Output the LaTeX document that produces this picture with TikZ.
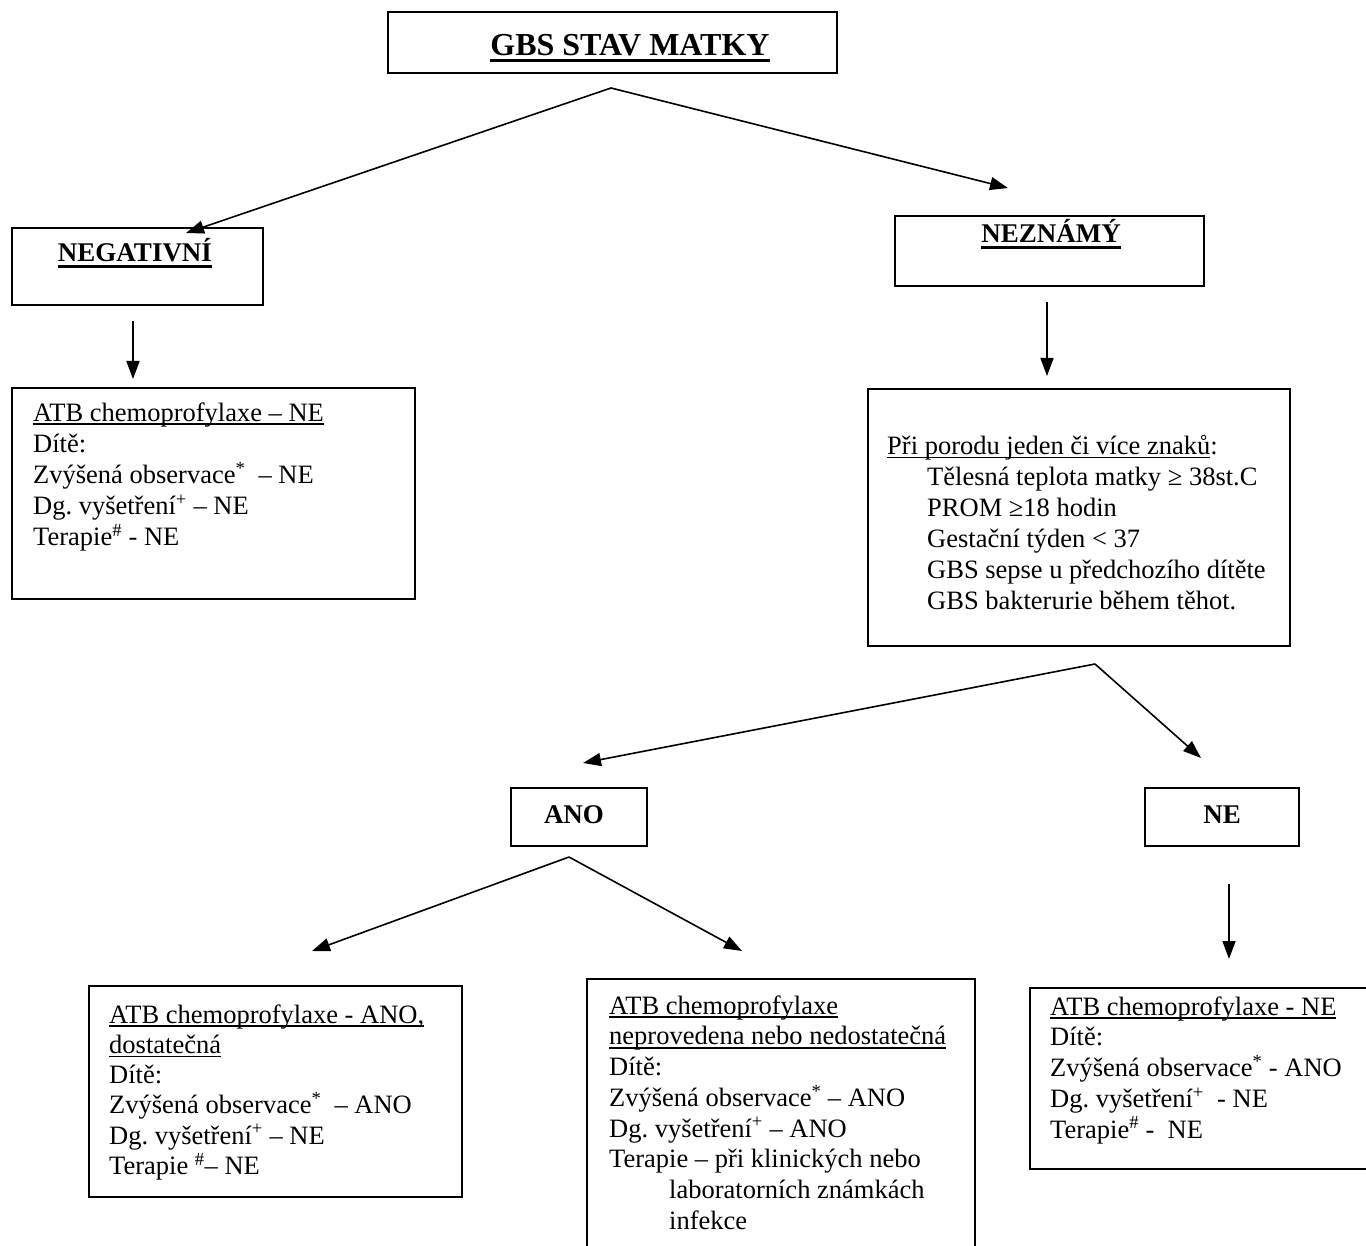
\documentclass[tikz,border=0pt]{standalone}
\usepackage{fontspec}
\setmainfont{Liberation Serif}
\usetikzlibrary{arrows.meta}
\frenchspacing
\newcommand\myul[1]{\leavevmode\setbox0\hbox{#1}\rlap{\rule[-3.6pt]{\wd0}{1.4pt}}\box0}
\newcommand\myulb[1]{\leavevmode\setbox0\hbox{#1}\rlap{\rule[-6pt]{\wd0}{3pt}}\box0}
\newcommand\sst{\rule{0pt}{19pt}}
\begin{document}
\begin{tikzpicture}[x=1pt,y=-1pt,
  box/.style={draw, line width=1.8pt, inner sep=0pt, anchor=north west},
  txt/.style={inner sep=0pt, anchor=north west, align=left, font=\fontsize{26.5}{31}\selectfont\frenchspacing},
  head/.style={inner sep=0pt, anchor=base, font=\fontsize{27}{31}\selectfont\bfseries},
  arr/.style={line width=1.6pt, -{Triangle[length=18pt,width=13pt]}},
  ln/.style={line width=1.6pt}]
\useasboundingbox (0,0) rectangle (1366,1246);
\clip (0,0) rectangle (1366,1246);
% boxes
\node[box, minimum width=449pt, minimum height=61pt] (bTop) at (387,11) {};
\node[box, minimum width=251pt, minimum height=77pt] (bNeg) at (11,227) {};
\node[box, minimum width=309pt, minimum height=70pt] (bNez) at (894,215) {};
\node[box, minimum width=403pt, minimum height=211pt] (bL1) at (11,387) {};
\node[box, minimum width=422pt, minimum height=257pt] (bR2) at (867,388) {};
\node[box, minimum width=136pt, minimum height=58pt] (bAno) at (510,787) {};
\node[box, minimum width=154pt, minimum height=58pt] (bNe) at (1144,787) {};
\node[box, minimum width=373pt, minimum height=211pt] (bB1) at (88,985) {};
\node[box, minimum width=388pt, minimum height=300pt] (bB2) at (586,978) {};
\node[box, minimum width=360pt, minimum height=181pt] (bB3) at (1029,987) {};
% headings
\node[head, font=\fontsize{32}{36}\selectfont\bfseries] (hTop) at (630,56) {\myulb{GBS STAV MATKY}};
\node[head] (hNeg) at (135,262) {\myulb{NEGATIVNÍ}};
\node[head] (hNez) at (1051,243) {\myulb{NEZNÁMÝ}};
\node[head] (hAno) at (574,823) {ANO};
\node[head] (hNe) at (1222,823) {NE};
% texts
\node[txt] (t1) at (33,402) {\sst\myul{ATB chemoprofylaxe – NE}\\
Dítě:\\
Zvýšená observace\textsuperscript{*}\ \ – NE\\
Dg. vyšetření\textsuperscript{+} – NE\\
Terapie\textsuperscript{\#} - NE};
\node[txt] (t2) at (887,435) {\sst\myul{Při porodu jeden či více znaků}:\\
\hspace*{40pt}Tělesná teplota matky ≥ 38st.C\\
\hspace*{40pt}PROM ≥18 hodin\\
\hspace*{40pt}Gestační týden < 37\\
\hspace*{40pt}GBS sepse u předchozího dítěte\\
\hspace*{40pt}GBS bakterurie během těhot.};
\node[txt, font=\fontsize{26.5}{30.2}\selectfont\frenchspacing] (t3) at (109,1004) {\sst\myul{ATB chemoprofylaxe - ANO,}\\
\myul{dostatečná}\\
Dítě:\\
Zvýšená observace\textsuperscript{*}\ \ – ANO\\
Dg. vyšetření\textsuperscript{+} – NE\\
Terapie \textsuperscript{\#}– NE};
\node[txt, font=\fontsize{26.5}{30.7}\selectfont\frenchspacing] (t4) at (609,995) {\sst\myul{ATB chemoprofylaxe}\\
\myul{neprovedena nebo nedostatečná}\\
Dítě:\\
Zvýšená observace\textsuperscript{*} – ANO\\
Dg. vyšetření\textsuperscript{+} – ANO\\
Terapie – při klinických nebo\\
\hspace*{60pt}laboratorních známkách\\
\hspace*{60pt}infekce};
\node[txt, font=\fontsize{26.5}{30.7}\selectfont\frenchspacing] (t5) at (1050,996) {\sst\myul{ATB chemoprofylaxe - NE}\\
Dítě:\\
Zvýšená observace\textsuperscript{*} - ANO\\
Dg. vyšetření\textsuperscript{+}\ \ - NE\\
Terapie\textsuperscript{\#} -\ \ NE};
% connector coordinates
\coordinate (a1) at (611,88);
\coordinate (a1l) at (186,233);
\coordinate (a1r) at (1008,188);
\coordinate (d1s) at (133,321);
\coordinate (d1e) at (133,379);
\coordinate (d2s) at (1047,302);
\coordinate (d2e) at (1047,376);
\coordinate (a2) at (1095,664);
\coordinate (a2l) at (583,763);
\coordinate (a2r) at (1201,758);
\coordinate (a3) at (569,857);
\coordinate (a3l) at (312,951);
\coordinate (a3r) at (742,951);
\coordinate (d3s) at (1229,884);
\coordinate (d3e) at (1229,959);
% connectors
\draw[arr] (a1) -- (a1l);
\draw[arr] (a1) -- (a1r);
\draw[arr] (d1s) -- (d1e);
\draw[arr] (d2s) -- (d2e);
\draw[arr] (a2) -- (a2l);
\draw[arr] (a2) -- (a2r);
\draw[arr] (a3) -- (a3l);
\draw[arr] (a3) -- (a3r);
\draw[arr] (d3s) -- (d3e);
\end{tikzpicture}
\end{document}
